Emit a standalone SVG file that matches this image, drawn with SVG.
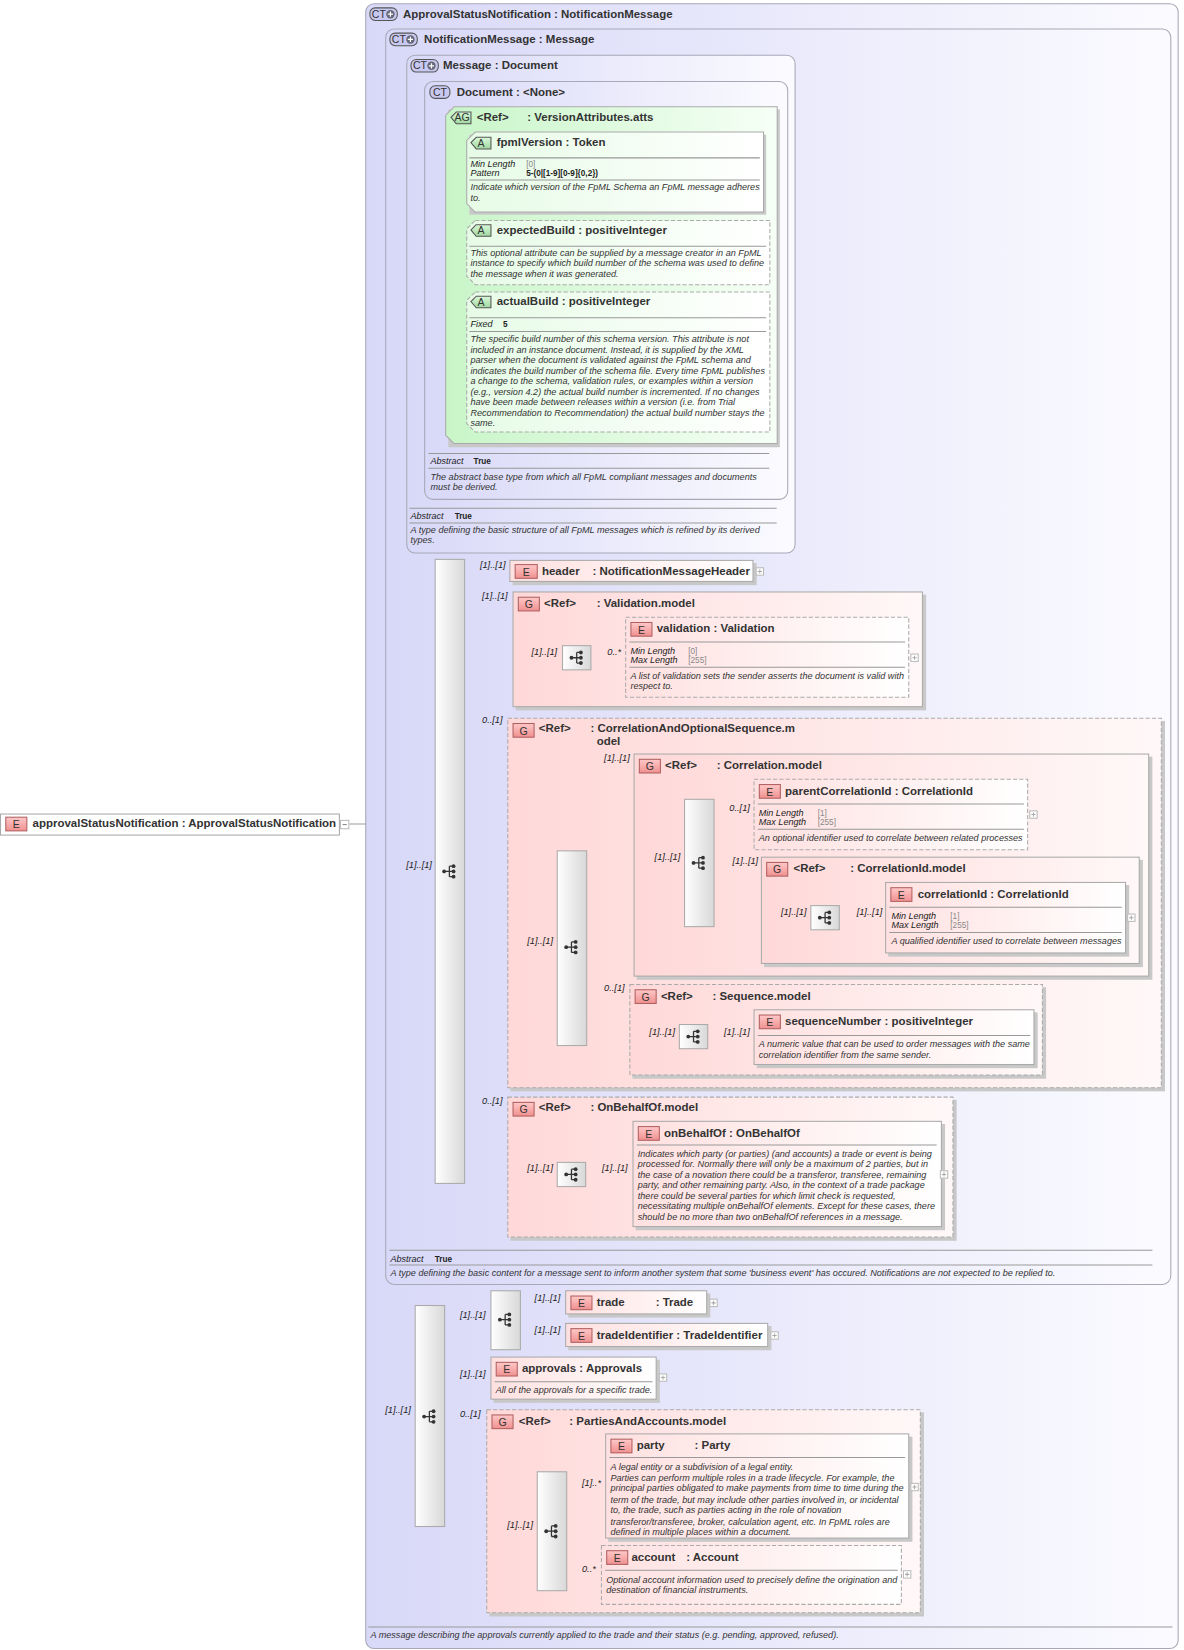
<svg xmlns="http://www.w3.org/2000/svg" xmlns:xlink="http://www.w3.org/1999/xlink" width="1184" height="1650" viewBox="0 0 1184 1650">
<style>
.t{font-family:"Liberation Sans",Arial,sans-serif;font-size:10.9px;font-weight:bold;fill:#333}
.d{font-family:"Liberation Sans",Arial,sans-serif;font-size:8.65px;font-style:italic;fill:#333}
.k{font-family:"Liberation Sans",Arial,sans-serif;font-size:8.6px;font-style:italic;fill:#222}
.v{font-family:"Liberation Sans",Arial,sans-serif;font-size:7.8px;fill:#888}
.vb{font-family:"Liberation Sans",Arial,sans-serif;font-size:7.8px;font-weight:bold;fill:#222}
.c{font-family:"Liberation Sans",Arial,sans-serif;font-size:8.8px;font-style:italic;fill:#222}
.bt{font-family:"Liberation Sans",Arial,sans-serif;font-size:10px;fill:#333;text-anchor:middle}
.ct{fill:url(#gCT);stroke:#a8a8b8;stroke-width:1}
.ag{fill:url(#gAG);stroke:#aaa;stroke-width:1}
.gr{fill:url(#gG);stroke:#aaa;stroke-width:1}
.grd{fill:url(#gG);stroke:#aaa;stroke-width:1;stroke-dasharray:4,2}
.el{fill:url(#gE);stroke:#aaa;stroke-width:1}
.eld{fill:url(#gE);stroke:#aaa;stroke-width:1;stroke-dasharray:4,2}
.at{fill:url(#gAT);stroke:#aaa;stroke-width:1}
.atd{fill:url(#gAT);stroke:#aaa;stroke-width:1;stroke-dasharray:4,2}
.sh{fill:#c8c8c8}
.ln{stroke:#999;stroke-width:1;fill:none}
.sep{stroke:#999;stroke-width:1}
.bar{fill:url(#gBar);stroke:#aaa}
.eb{fill:url(#gEB);stroke:#b06060}
</style>
<defs>
<linearGradient id="gCT" x1="0" y1="0" x2="1" y2="0"><stop offset="0" stop-color="#d8d8f8"/><stop offset="1" stop-color="#fbfbff"/></linearGradient>
<linearGradient id="gAG" x1="0" y1="0" x2="1" y2="0"><stop offset="0" stop-color="#c8f5c8"/><stop offset="1" stop-color="#f6fff6"/></linearGradient>
<linearGradient id="gAT" x1="0" y1="0" x2="1" y2="0"><stop offset="0" stop-color="#e6fbe6"/><stop offset="1" stop-color="#ffffff"/></linearGradient>
<linearGradient id="gG" x1="0" y1="0" x2="1" y2="0"><stop offset="0" stop-color="#ffd8d8"/><stop offset="1" stop-color="#fff8f8"/></linearGradient>
<linearGradient id="gE" x1="0" y1="0" x2="1" y2="0"><stop offset="0" stop-color="#ffe0e0"/><stop offset="1" stop-color="#ffffff"/></linearGradient>
<linearGradient id="gBar" x1="0" y1="0" x2="1" y2="0"><stop offset="0" stop-color="#ffffff"/><stop offset="1" stop-color="#d8d8d8"/></linearGradient>
<linearGradient id="gEB" x1="0" y1="0" x2="0" y2="1"><stop offset="0" stop-color="#ffc8c8"/><stop offset="1" stop-color="#f09090"/></linearGradient>
<linearGradient id="gAB" x1="0" y1="0" x2="0" y2="1"><stop offset="0" stop-color="#d8f8d8"/><stop offset="1" stop-color="#a0d8a0"/></linearGradient>
<symbol id="seq" viewBox="0 0 16 16" overflow="visible">
<path d="M3,8H8M8,3V13M8,3H12M8,8H12M8,13H12" stroke="#333" stroke-width="1.2" fill="none"/>
<circle cx="3" cy="8" r="1.8" fill="#333"/><circle cx="12" cy="3" r="1.8" fill="#333"/><circle cx="12" cy="8" r="1.8" fill="#333"/><circle cx="12" cy="13" r="1.8" fill="#333"/>
</symbol>
<symbol id="plus" viewBox="0 0 8 8" overflow="visible">
<rect x="0.5" y="0.5" width="7" height="7" fill="#fff" stroke="#bbb"/><path d="M2,4H6M4,2V6" stroke="#aaa"/>
</symbol>
<symbol id="ctp" viewBox="0 0 27 13" overflow="visible">
<rect x="0.5" y="0.5" width="26" height="12" rx="5" fill="#c8c8f0" stroke="#555"/>
<circle cx="20" cy="6.5" r="4" fill="#667" /><path d="M17.5,6.5H22.5M20,4V9" stroke="#fff" stroke-width="1.2"/>
</symbol>
<symbol id="comp" viewBox="0 0 28 24" overflow="visible">
<rect x="0.5" y="0.5" width="27" height="23" fill="url(#gBar)" stroke="#aaa"/>
<use xlink:href="#seq" x="6" y="4" width="16" height="16"/>
</symbol>
</defs>
<rect width="1184" height="1650" fill="#ffffff"/>
<g transform="scale(1.0524)">

<g id="connectors">
<path class="ln" d="M332,783H356M356,623V1345M356,623H375M356,1345H394"/>
<path class="ln" d="M375,290V822M375,290H386M375,822H413"/>
<path class="ln" d="M386,290V262H403M403,262H433M433,165V345M433,165H443M433,240H443M433,345H443"/>
<path class="ln" d="M441,541H484M441,617H487M441,857H482M441,1108H482"/>
<path class="ln" d="M487,626H534M562,626H594"/>
<path class="ln" d="M482,900H529M557,822H650M557,978H598M678,775H716M678,864H770M798,864H841"/>
<path class="ln" d="M598,985H645M673,985H716"/>
<path class="ln" d="M482,1116H529M557,1116H601"/>
<path class="ln" d="M422,1250H466M494,1240H537M494,1270H537M422,1308H466M422,1436H462"/>
<path class="ln" d="M462,1452H510M538,1413H575M538,1497H571"/>
</g>

<g id="root">
<rect x="0.5" y="773.5" width="322" height="20" fill="#fff" stroke="#aaa"/>
<rect x="5.5" y="776.5" width="20" height="13" class="eb"/><text x="15.5" y="787" class="bt">E</text>
<text x="31" y="786" class="t">approvalStatusNotification : ApprovalStatusNotification</text>
<rect x="323.5" y="779.5" width="8" height="8" fill="#fff" stroke="#bbb"/><path d="M325.5,783.5H329.5" stroke="#888"/>
</g>

<g id="ApprovalStatusNotification">
<rect x="347.5" y="3.5" width="772" height="1563" rx="8" class="ct"/>
<use xlink:href="#ctp" x="351" y="7" width="27" height="13"/><text x="360" y="17" class="bt">CT</text>
<text x="383" y="17" class="t">ApprovalStatusNotification : NotificationMessage</text>
<line x1="350" y1="1546" x2="1114" y2="1546" class="sep"/>
<text x="352" y="1556" class="d">A message describing the approvals currently applied to the trade and their status (e.g. pending, approved, refused).</text>
</g>

<g id="NotificationMessage">
<rect x="366.5" y="27.5" width="746" height="1193" rx="8" class="ct"/>
<use xlink:href="#ctp" x="370" y="31" width="27" height="13"/><text x="379" y="41" class="bt">CT</text>
<text x="403" y="41" class="t">NotificationMessage : Message</text>
<line x1="370" y1="1188" x2="1095" y2="1188" class="sep"/>
<text x="371" y="1199" class="k">Abstract</text><text x="413" y="1199" class="vb">True</text>
<line x1="370" y1="1202" x2="1095" y2="1202" class="sep"/>
<text x="371" y="1212" class="d">A type defining the basic content for a message sent to inform another system that some 'business event' has occured. Notifications are not expected to be replied to.</text>
</g>

<g id="Message">
<rect x="386.5" y="52.5" width="369" height="473" rx="8" class="ct"/>
<use xlink:href="#ctp" x="390" y="56" width="27" height="13"/><text x="399" y="66" class="bt">CT</text>
<text x="421" y="66" class="t">Message : Document</text>
<line x1="389" y1="483" x2="738" y2="483" class="sep"/>
<text x="390" y="493" class="k">Abstract</text><text x="432" y="493" class="vb">True</text>
<line x1="389" y1="497" x2="738" y2="497" class="sep"/>
<text x="390" y="506" class="d">A type defining the basic structure of all FpML messages which is refined by its derived</text>
<text x="390" y="516" class="d">types.</text>
</g>

<g id="Document">
<rect x="403.5" y="77.5" width="345" height="397" rx="8" class="ct"/>
<rect x="408.5" y="81.5" width="19" height="12" rx="5" fill="#c8c8f0" stroke="#555"/><text x="418" y="91" class="bt">CT</text>
<text x="434" y="91" class="t">Document : &lt;None&gt;</text>
<line x1="407" y1="431" x2="731" y2="431" class="sep"/>
<text x="409" y="441" class="k">Abstract</text><text x="450" y="441" class="vb">True</text>
<line x1="407" y1="445" x2="731" y2="445" class="sep"/>
<text x="409" y="456" class="d">The abstract base type from which all FpML compliant messages and documents</text>
<text x="409" y="466" class="d">must be derived.</text>
</g>

<g id="VersionAttributes">
<rect x="426" y="104" width="315" height="321" class="sh"/>
<path d="M431.5,101.5H738.5V421.5H431.5L423.5,413.5V109.5Z" class="ag"/>
<path d="M433.5,106.5L428.5,111.5L433.5,117.5H447.5V106.5Z" fill="url(#gAB)" stroke="#555"/><text x="439" y="115" class="bt">AG</text>
<text x="453" y="115" class="t">&lt;Ref&gt;</text><text x="501" y="115" class="t">: VersionAttributes.atts</text>
</g>

<g id="fpmlVersion">
<rect x="446" y="128" width="282" height="76" class="sh"/>
<path d="M451.5,125.5H725.5V201.5H451.5L443.5,193.5V133.5Z" class="at"/>
<path d="M452.5,130.5L447.5,135.5L452.5,141.5H466.5V130.5Z" fill="url(#gAB)" stroke="#555"/><text x="457" y="139.5" class="bt">A</text>
<text x="472" y="139" class="t">fpmlVersion : Token</text>
<line x1="446" y1="150" x2="722" y2="150" class="sep"/>
<text x="447" y="159" class="k">Min Length</text><text x="500" y="159" class="v">[0]</text>
<text x="447" y="167" class="k">Pattern</text><text x="500" y="167" class="vb">5-(0|[1-9][0-9]{0,2})</text>
<line x1="446" y1="171" x2="722" y2="171" class="sep"/>
<text x="447" y="181" class="d">Indicate which version of the FpML Schema an FpML message adheres</text>
<text x="447" y="191" class="d">to.</text>
</g>

<g id="expectedBuild">
<path d="M451.5,209.5H731.5V270.5H451.5L443.5,262.5V217.5Z" class="atd"/>
<path d="M452.5,213.5L447.5,218.5L452.5,224.5H466.5V213.5Z" fill="url(#gAB)" stroke="#555"/><text x="457" y="222.5" class="bt">A</text>
<text x="472" y="222" class="t">expectedBuild : positiveInteger</text>
<line x1="446" y1="234" x2="728" y2="234" class="sep"/>
<text x="447" y="243" class="d">This optional attribute can be supplied by a message creator in an FpML</text>
<text x="447" y="253" class="d">instance to specify which build number of the schema was used to define</text>
<text x="447" y="263" class="d">the message when it was generated.</text>
</g>

<g id="actualBuild">
<path d="M451.5,277.5H731.5V410.5H451.5L443.5,402.5V285.5Z" class="atd"/>
<path d="M452.5,281.5L447.5,286.5L452.5,292.5H466.5V281.5Z" fill="url(#gAB)" stroke="#555"/><text x="457" y="290.5" class="bt">A</text>
<text x="472" y="290" class="t">actualBuild : positiveInteger</text>
<line x1="446" y1="302" x2="728" y2="302" class="sep"/>
<text x="447" y="311" class="k">Fixed</text><text x="478" y="311" class="vb">5</text>
<line x1="446" y1="315" x2="728" y2="315" class="sep"/>
<text x="447" y="325" class="d">The specific build number of this schema version. This attribute is not</text>
<text x="447" y="335" class="d">included in an instance document. Instead, it is supplied by the XML</text>
<text x="447" y="345" class="d">parser when the document is validated against the FpML schema and</text>
<text x="447" y="355" class="d">indicates the build number of the schema file. Every time FpML publishes</text>
<text x="447" y="365" class="d">a change to the schema, validation rules, or examples within a version</text>
<text x="447" y="375" class="d">(e.g., version 4.2) the actual build number is incremented. If no changes</text>
<text x="447" y="385" class="d">have been made between releases within a version (i.e. from Trial</text>
<text x="447" y="395" class="d">Recommendation to Recommendation) the actual build number stays the</text>
<text x="447" y="405" class="d">same.</text>
</g>

<g id="seq1">
<rect x="413.5" y="531.5" width="28" height="593" class="bar"/>
<use xlink:href="#seq" x="419" y="820" width="16" height="16"/>
<text x="386" y="825" class="c">[1]..[1]</text>
</g>

<g id="header">
<text x="456" y="540" class="c">[1]..[1]</text>
<rect x="487" y="535" width="232" height="21" class="sh"/>
<rect x="484.5" y="532.5" width="231" height="20" class="el"/>
<rect x="489.5" y="536.5" width="21" height="13" class="eb"/><text x="500" y="547" class="bt">E</text>
<text x="515" y="546" class="t">header</text><text x="563" y="546" class="t">: NotificationMessageHeader</text>
<use xlink:href="#plus" x="718" y="539" width="8" height="8"/>
</g>

<g id="ValidationModel">
<text x="458" y="569" class="c">[1]..[1]</text>
<rect x="490" y="565" width="390" height="110" class="sh"/>
<rect x="487.5" y="562.5" width="389" height="109" class="gr"/>
<rect x="492.5" y="567.5" width="20" height="13" class="eb"/><text x="502.5" y="578" class="bt">G</text>
<text x="517" y="577" class="t">&lt;Ref&gt;</text><text x="567" y="577" class="t">: Validation.model</text>
<use xlink:href="#comp" x="534" y="613" width="28" height="24"/>
<text x="505" y="622" class="c">[1]..[1]</text><text x="577" y="622" class="c">0..*</text>
</g>

<g id="validation">
<rect x="594.5" y="586.5" width="269" height="76" class="eld"/>
<rect x="599.5" y="591.5" width="20" height="13" class="eb"/><text x="609.5" y="602" class="bt">E</text>
<text x="624" y="601" class="t">validation : Validation</text>
<line x1="598" y1="610" x2="860" y2="610" class="sep"/>
<text x="599" y="621" class="k">Min Length</text><text x="654" y="621" class="v">[0]</text>
<text x="599" y="630" class="k">Max Length</text><text x="654" y="630" class="v">[255]</text>
<line x1="598" y1="634" x2="860" y2="634" class="sep"/>
<text x="599" y="645" class="d">A list of validation sets the sender asserts the document is valid with</text>
<text x="599" y="655" class="d">respect to.</text>
<use xlink:href="#plus" x="865" y="621" width="8" height="8"/>
</g>

<g id="CorrelationAndOptionalSequence">
<text x="458" y="687" class="c">0..[1]</text>
<rect x="485" y="685" width="622" height="352" class="sh"/>
<rect x="482.5" y="682.5" width="621" height="351" class="grd"/>
<rect x="487.5" y="687.5" width="20" height="13" class="eb"/><text x="497.5" y="698" class="bt">G</text>
<text x="512" y="696" class="t">&lt;Ref&gt;</text><text x="561" y="696" class="t">: CorrelationAndOptionalSequence.m</text>
<text x="567" y="708" class="t">odel</text>
<rect x="529.5" y="808.5" width="28" height="185" class="bar"/>
<use xlink:href="#seq" x="535" y="892" width="16" height="16"/>
<text x="501" y="897" class="c">[1]..[1]</text>
</g>

<g id="CorrelationModel">
<text x="574" y="723" class="c">[1]..[1]</text>
<rect x="605" y="719" width="490" height="212" class="sh"/>
<rect x="602.5" y="716.5" width="489" height="211" class="gr"/>
<rect x="607.5" y="721.5" width="20" height="13" class="eb"/><text x="617.5" y="732" class="bt">G</text>
<text x="632" y="731" class="t">&lt;Ref&gt;</text><text x="681" y="731" class="t">: Correlation.model</text>
<rect x="650.5" y="759.5" width="28" height="121" class="bar"/>
<use xlink:href="#seq" x="656" y="812" width="16" height="16"/>
<text x="622" y="817" class="c">[1]..[1]</text>
</g>

<g id="parentCorrelationId">
<text x="693" y="771" class="c">0..[1]</text>
<rect x="716.5" y="740.5" width="260" height="67" class="eld"/>
<rect x="721.5" y="745.5" width="20" height="13" class="eb"/><text x="731.5" y="756" class="bt">E</text>
<text x="746" y="755" class="t">parentCorrelationId : CorrelationId</text>
<line x1="720" y1="764" x2="973" y2="764" class="sep"/>
<text x="721" y="775" class="k">Min Length</text><text x="777" y="775" class="v">[1]</text>
<text x="721" y="784" class="k">Max Length</text><text x="777" y="784" class="v">[255]</text>
<line x1="720" y1="788" x2="973" y2="788" class="sep"/>
<text x="721" y="799" class="d">An optional identifier used to correlate between related processes</text>
<use xlink:href="#plus" x="978" y="770" width="8" height="8"/>
</g>

<g id="CorrelationIdModel">
<text x="696" y="821" class="c">[1]..[1]</text>
<rect x="726" y="817" width="360" height="102" class="sh"/>
<rect x="723.5" y="814.5" width="359" height="101" class="gr"/>
<rect x="728.5" y="819.5" width="20" height="13" class="eb"/><text x="738.5" y="830" class="bt">G</text>
<text x="754" y="829" class="t">&lt;Ref&gt;</text><text x="808" y="829" class="t">: CorrelationId.model</text>
<use xlink:href="#comp" x="770" y="860" width="28" height="24"/>
<text x="742" y="869" class="c">[1]..[1]</text><text x="814" y="869" class="c">[1]..[1]</text>
</g>

<g id="correlationId">
<rect x="844" y="841" width="229" height="68" class="sh"/>
<rect x="841.5" y="838.5" width="228" height="67" class="el"/>
<rect x="846.5" y="843.5" width="20" height="13" class="eb"/><text x="856.5" y="854" class="bt">E</text>
<text x="872" y="853" class="t">correlationId : CorrelationId</text>
<line x1="845" y1="862" x2="1066" y2="862" class="sep"/>
<text x="847" y="873" class="k">Min Length</text><text x="903" y="873" class="v">[1]</text>
<text x="847" y="882" class="k">Max Length</text><text x="903" y="882" class="v">[255]</text>
<line x1="845" y1="886" x2="1066" y2="886" class="sep"/>
<text x="847" y="897" class="d">A qualified identifier used to correlate between messages</text>
<use xlink:href="#plus" x="1071" y="868" width="8" height="8"/>
</g>

<g id="SequenceModel">
<text x="574" y="942" class="c">0..[1]</text>
<rect x="601" y="938" width="393" height="87" class="sh"/>
<rect x="598.5" y="935.5" width="392" height="86" class="grd"/>
<rect x="603.5" y="940.5" width="20" height="13" class="eb"/><text x="613.5" y="951" class="bt">G</text>
<text x="628" y="950" class="t">&lt;Ref&gt;</text><text x="677" y="950" class="t">: Sequence.model</text>
<use xlink:href="#comp" x="645" y="973" width="28" height="24"/>
<text x="617" y="983" class="c">[1]..[1]</text><text x="688" y="983" class="c">[1]..[1]</text>
</g>

<g id="sequenceNumber">
<rect x="719" y="962" width="267" height="53" class="sh"/>
<rect x="716.5" y="959.5" width="266" height="52" class="el"/>
<rect x="721.5" y="964.5" width="20" height="13" class="eb"/><text x="731.5" y="975" class="bt">E</text>
<text x="746" y="974" class="t">sequenceNumber : positiveInteger</text>
<line x1="720" y1="984" x2="979" y2="984" class="sep"/>
<text x="721" y="995" class="d">A numeric value that can be used to order messages with the same</text>
<text x="721" y="1005" class="d">correlation identifier from the same sender.</text>
</g>

<g id="OnBehalfOfModel">
<text x="458" y="1049" class="c">0..[1]</text>
<rect x="485" y="1045" width="424" height="134" class="sh"/>
<rect x="482.5" y="1042.5" width="423" height="133" class="grd"/>
<rect x="487.5" y="1047.5" width="20" height="13" class="eb"/><text x="497.5" y="1058" class="bt">G</text>
<text x="512" y="1056" class="t">&lt;Ref&gt;</text><text x="561" y="1056" class="t">: OnBehalfOf.model</text>
<use xlink:href="#comp" x="529" y="1104" width="28" height="24"/>
<text x="501" y="1113" class="c">[1]..[1]</text><text x="572" y="1113" class="c">[1]..[1]</text>
</g>

<g id="onBehalfOf">
<rect x="604" y="1068" width="294" height="101" class="sh"/>
<rect x="601.5" y="1065.5" width="293" height="100" class="el"/>
<rect x="606.5" y="1070.5" width="20" height="13" class="eb"/><text x="616.5" y="1081" class="bt">E</text>
<text x="631" y="1080" class="t">onBehalfOf : OnBehalfOf</text>
<line x1="605" y1="1088" x2="890" y2="1088" class="sep"/>
<text x="606" y="1099" class="d">Indicates which party (or parties) (and accounts) a trade or event is being</text>
<text x="606" y="1109" class="d">processed for. Normally there will only be a maximum of 2 parties, but in</text>
<text x="606" y="1119" class="d">the case of a novation there could be a transferor, transferee, remaining</text>
<text x="606" y="1129" class="d">party, and other remaining party. Also, in the context of a trade package</text>
<text x="606" y="1139" class="d">there could be several parties for which limit check is requested,</text>
<text x="606" y="1149" class="d">necessitating multiple onBehalfOf elements. Except for these cases, there</text>
<text x="606" y="1159" class="d">should be no more than two onBehalfOf references in a message.</text>
<use xlink:href="#plus" x="893" y="1112" width="8" height="8"/>
</g>

<g id="seq2">
<rect x="394.5" y="1240.5" width="28" height="210" class="bar"/>
<use xlink:href="#seq" x="400" y="1338" width="16" height="16"/>
<text x="366" y="1343" class="c">[1]..[1]</text>
<text x="437" y="1252" class="c">[1]..[1]</text>
<rect x="466.5" y="1226.5" width="28" height="56" class="bar"/>
<use xlink:href="#seq" x="472" y="1246" width="16" height="16"/>
</g>

<g id="trade">
<text x="508" y="1236" class="c">[1]..[1]</text>
<rect x="540" y="1229" width="135" height="23" class="sh"/>
<rect x="537.5" y="1226.5" width="134" height="22" class="el"/>
<rect x="542.5" y="1231.5" width="20" height="13" class="eb"/><text x="552.5" y="1242" class="bt">E</text>
<text x="567" y="1241" class="t">trade</text><text x="623" y="1241" class="t">: Trade</text>
<use xlink:href="#plus" x="674" y="1234" width="8" height="8"/>
</g>

<g id="tradeIdentifier">
<text x="508" y="1267" class="c">[1]..[1]</text>
<rect x="540" y="1260" width="193" height="23" class="sh"/>
<rect x="537.5" y="1257.5" width="192" height="22" class="el"/>
<rect x="542.5" y="1262.5" width="20" height="13" class="eb"/><text x="552.5" y="1273" class="bt">E</text>
<text x="567" y="1272" class="t">tradeIdentifier : TradeIdentifier</text>
<use xlink:href="#plus" x="732" y="1265" width="8" height="8"/>
</g>

<g id="approvals">
<text x="437" y="1308" class="c">[1]..[1]</text>
<rect x="469" y="1292" width="158" height="41" class="sh"/>
<rect x="466.5" y="1289.5" width="157" height="40" class="el"/>
<rect x="471.5" y="1294.5" width="20" height="13" class="eb"/><text x="481.5" y="1305" class="bt">E</text>
<text x="496" y="1304" class="t">approvals : Approvals</text>
<line x1="470" y1="1313" x2="620" y2="1313" class="sep"/>
<text x="471" y="1324" class="d">All of the approvals for a specific trade.</text>
<use xlink:href="#plus" x="626" y="1305" width="8" height="8"/>
</g>

<g id="PartiesAndAccountsModel">
<text x="437" y="1346" class="c">0..[1]</text>
<rect x="465" y="1342" width="413" height="194" class="sh"/>
<rect x="462.5" y="1339.5" width="412" height="193" class="grd"/>
<rect x="467.5" y="1344.5" width="20" height="13" class="eb"/><text x="477.5" y="1355" class="bt">G</text>
<text x="493" y="1354" class="t">&lt;Ref&gt;</text><text x="541" y="1354" class="t">: PartiesAndAccounts.model</text>
<rect x="510.5" y="1398.5" width="28" height="113" class="bar"/>
<use xlink:href="#seq" x="516" y="1447" width="16" height="16"/>
<text x="482" y="1452" class="c">[1]..[1]</text>
<text x="553" y="1412" class="c">[1]..*</text>
<text x="553" y="1494" class="c">0..*</text>
</g>

<g id="party">
<rect x="578" y="1365" width="289" height="100" class="sh"/>
<rect x="575.5" y="1362.5" width="288" height="99" class="el"/>
<rect x="580.5" y="1367.5" width="20" height="13" class="eb"/><text x="590.5" y="1378" class="bt">E</text>
<text x="605" y="1377" class="t">party</text><text x="660" y="1377" class="t">: Party</text>
<line x1="579" y1="1385" x2="860" y2="1385" class="sep"/>
<text x="580" y="1397" class="d">A legal entity or a subdivision of a legal entity.</text>
<text x="580" y="1407" class="d">Parties can perform multiple roles in a trade lifecycle. For example, the</text>
<text x="580" y="1417" class="d">principal parties obligated to make payments from time to time during the</text>
<text x="580" y="1428" class="d">term of the trade, but may include other parties involved in, or incidental</text>
<text x="580" y="1438" class="d">to, the trade, such as parties acting in the role of novation</text>
<text x="580" y="1449" class="d">transferor/transferee, broker, calculation agent, etc. In FpML roles are</text>
<text x="580" y="1459" class="d">defined in multiple places within a document.</text>
<use xlink:href="#plus" x="865" y="1409" width="8" height="8"/>
</g>

<g id="account">
<rect x="571.5" y="1468.5" width="285" height="56" class="eld"/>
<rect x="576.5" y="1473.5" width="20" height="13" class="eb"/><text x="586.5" y="1484" class="bt">E</text>
<text x="600" y="1483" class="t">account</text><text x="652" y="1483" class="t">: Account</text>
<line x1="575" y1="1492" x2="853" y2="1492" class="sep"/>
<text x="576" y="1504" class="d">Optional account information used to precisely define the origination and</text>
<text x="576" y="1514" class="d">destination of financial instruments.</text>
<use xlink:href="#plus" x="858" y="1492" width="8" height="8"/>
</g>

</g>
</svg>
